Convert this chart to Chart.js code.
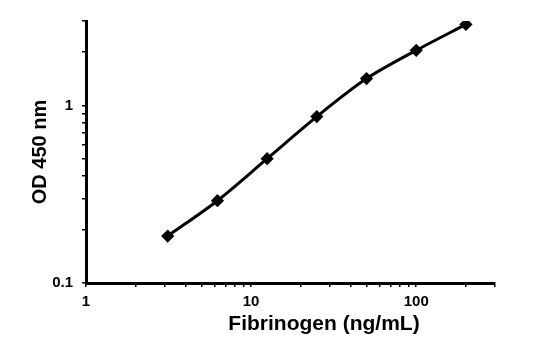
<!DOCTYPE html>
<html><head><meta charset="utf-8">
<script src="https://cdn.jsdelivr.net/npm/chart.js@4/dist/chart.umd.min.js"></script>
<style>html,body{margin:0;padding:0;background:#fff}#wrap{width:558px;height:341px}</style>
</head><body><div id="wrap"><canvas id="c"></canvas></div>
<script>
const concentrations = [3.125, 6.25, 12.5, 25, 50, 100, 200];
const odValues = [0.184, 0.291, 0.502, 0.867, 1.42, 2.05, 2.87];
const xTicks = [1,2,3,4,5,6,7,8,9,10,20,30,40,50,60,70,80,90,100,200,300];
const yTicks = [0.1,0.2,0.3,0.4,0.5,0.6,0.7,0.8,0.9,1,2,3];
const xLabels = [1,10,100];
const yLabels = [0.1,1];
const xTitle = 'Fibrinogen (ng/mL)';
const yTitle = 'OD 450 nm';

const xTitlePlugin = {
  id: 'xTitlePlugin',
  afterDraw(chart) {
    const ctx = chart.ctx;
    ctx.save();
    ctx.font = 'bold 21px "Liberation Sans", Arial, sans-serif';
    ctx.fillStyle = '#000';
    ctx.textAlign = 'center';
    ctx.textBaseline = 'middle';
    ctx.fillText(xTitle, chart.chartArea.left + 238, chart.chartArea.bottom + 41);
    ctx.restore();
  }
};

const tickFont = {family: '"Liberation Sans", Arial, sans-serif', size: 15, weight: 'bold'};

new Chart(document.getElementById('c'), {
  type: 'line',
  data: {
    datasets: [{
      data: concentrations.map((x, i) => ({x: x, y: odValues[i]})),
      borderColor: '#000',
      backgroundColor: '#000',
      borderWidth: 3,
      pointStyle: 'rectRot',
      pointRadius: 4.5,
      pointHoverRadius: 4.5,
      tension: 0.3,
      fill: false
    }]
  },
  options: {
    responsive: true,
    maintainAspectRatio: false,
    animation: false,
    layout: {padding: {top: 21, right: 63, left: 0, bottom: 0}},
    plugins: {legend: {display: false}, tooltip: {enabled: false}},
    scales: {
      x: {
        type: 'logarithmic',
        min: 1, max: 300,
        afterBuildTicks: s => { s.ticks = xTicks.map(v => ({value: v})); },
        afterFit: s => { s.height = 58; },
        border: {display: true, color: '#000', width: 3},
        grid: {display: true, drawOnChartArea: false, drawTicks: true, tickLength: 4, color: '#000', lineWidth: 1.5},
        ticks: {
          color: '#000', font: tickFont, padding: 6, maxRotation: 0, autoSkip: false,
          callback: v => xLabels.includes(v) ? String(v) : ''
        },
        title: {display: false}
      },
      y: {
        type: 'logarithmic',
        min: 0.1, max: 3,
        afterBuildTicks: s => { s.ticks = yTicks.map(v => ({value: v})); },
        afterFit: s => { s.width = 86; },
        border: {display: true, color: '#000', width: 3},
        grid: {display: true, drawOnChartArea: false, drawTicks: true, tickLength: 4, color: '#000', lineWidth: 1.5},
        ticks: {
          color: '#000', font: tickFont, padding: 9, autoSkip: false,
          callback: v => yLabels.includes(v) ? String(v) : ''
        },
        title: {display: true, text: yTitle, color: '#000', font: {family: '"Liberation Sans", Arial, sans-serif', size: 20, weight: 'bold'}, padding: {top: 28, bottom: 0}}
      }
    }
  },
  plugins: [xTitlePlugin]
});
</script></body></html>
